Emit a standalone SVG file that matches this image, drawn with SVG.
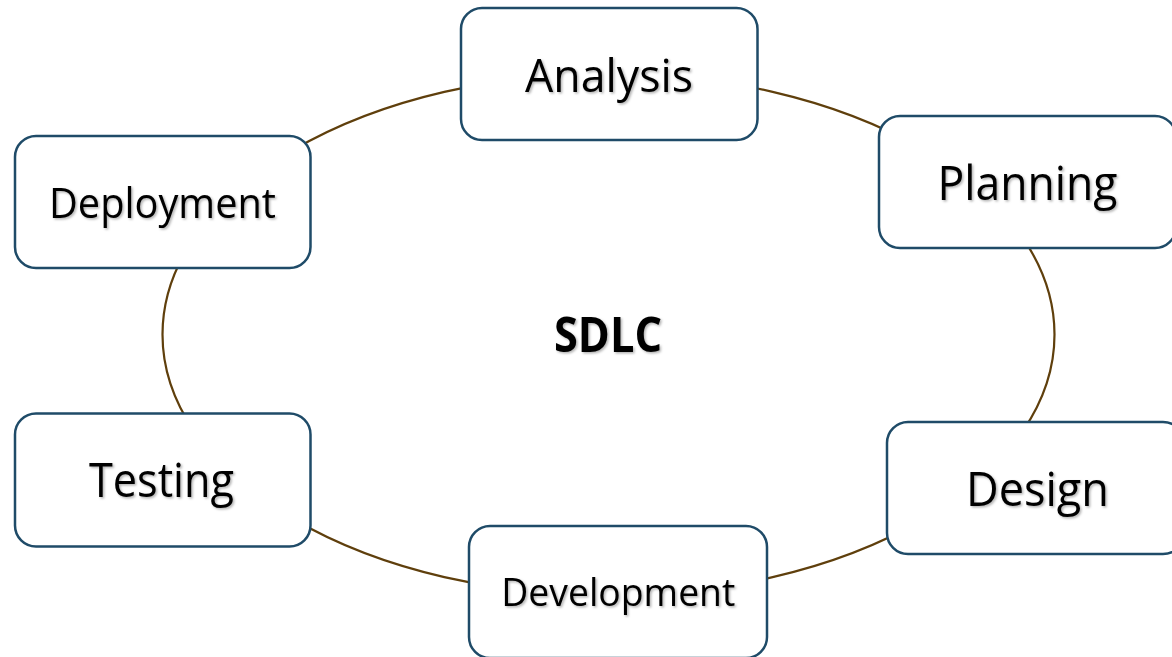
<svg xmlns="http://www.w3.org/2000/svg" width="1172" height="657" viewBox="0 0 1172 657">
<style>
.box{fill:#ffffff;stroke:#1f4b68;stroke-width:2.5}
.lbl{font-family:"Open Sans","Noto Sans",sans-serif;fill:#000000;filter:url(#sh)}
.ring{fill:none;stroke:#5f3f0c;stroke-width:2.2}
</style>
<defs>
<filter id="sh" x="-10%" y="-20%" width="120%" height="140%">
<feDropShadow dx="1.5" dy="1.5" stdDeviation="1" flood-color="#000000" flood-opacity="0.3"/>
</filter>
</defs>
<rect width="1172" height="657" fill="#ffffff"/>
<g id="connectors">
<ellipse class="ring" cx="608.5" cy="334.5" rx="446" ry="261"/>
</g>
<g id="sdlc">
<text class="lbl" x="554" y="352" font-size="49" font-weight="bold" textLength="108" lengthAdjust="spacingAndGlyphs">SDLC</text>
</g>
<g id="analysis">
<rect class="box" x="461" y="8" width="296.5" height="132" rx="21"/>
<text class="lbl" x="525" y="92" font-size="46" textLength="168" lengthAdjust="spacingAndGlyphs">Analysis</text>
</g>
<g id="planning">
<rect class="box" x="879" y="116" width="297" height="132" rx="21"/>
<text class="lbl" x="937.5" y="200" font-size="47" textLength="180" lengthAdjust="spacingAndGlyphs">Planning</text>
</g>
<g id="design">
<rect class="box" x="887" y="422" width="297" height="132" rx="21"/>
<text class="lbl" x="966" y="505.7" font-size="47" textLength="143" lengthAdjust="spacingAndGlyphs">Design</text>
</g>
<g id="development">
<rect class="box" x="469" y="526" width="298" height="132" rx="21"/>
<text class="lbl" x="501.3" y="606" font-size="39" textLength="234" lengthAdjust="spacingAndGlyphs">Development</text>
</g>
<g id="testing">
<rect class="box" x="15" y="413.5" width="295.5" height="133" rx="21"/>
<text class="lbl" x="89" y="496.7" font-size="47" textLength="145" lengthAdjust="spacingAndGlyphs">Testing</text>
</g>
<g id="deployment">
<rect class="box" x="15" y="136" width="295.5" height="132" rx="21"/>
<text class="lbl" x="49" y="218.3" font-size="42" textLength="227" lengthAdjust="spacingAndGlyphs">Deployment</text>
</g>
</svg>
